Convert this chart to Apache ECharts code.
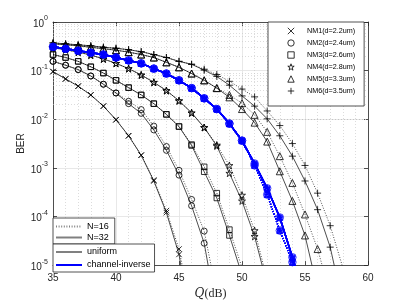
<!DOCTYPE html>
<html><head><meta charset="utf-8">
<script src="https://cdn.jsdelivr.net/npm/echarts@6/dist/echarts.min.js"></script>
<style>html,body{margin:0;padding:0;background:#fff}#c{width:407px;height:305px}</style>
</head><body><div id="c"></div>
<script>
// SNR grid (dB)
const snr = [35,36,37,38,39,40,41,42,43,44,45,46,47,48,49,50,51,52,53,54,55,56,57,58];
const xTicks = [35,40,45,50,55,60];
const nmNames = ['NM1(d=2.2um)','NM2(d=2.4um)','NM3(d=2.6um)','NM4(d=2.8um)','NM5(d=3.3um)','NM6(d=3.5um)'];
const lineNames = ['N=16','N=32'];
const schemeNames = ['uniform','channel-inverse'];

// uniform allocation, per NM (BER values)
const nm1_n16 = [0.0955,0.0676,0.0479,0.0316,0.0186,0.00977,0.00457,0.00182,5.62e-4,1.32e-4,2.14e-5,1e-6];
const nm1_n32 = [0.0955,0.0676,0.0479,0.0316,0.0186,0.00977,0.00457,0.00182,5.37e-4,1.20e-4,1.66e-5,5e-7];
const nm2_n16 = [0.155,0.129,0.105,0.0776,0.0525,0.0347,0.0234,0.0158,0.00724,0.00275,8.91e-4,2.24e-4,5.01e-5,2.5e-6];
const nm2_n32 = [0.155,0.129,0.105,0.0776,0.0525,0.0347,0.0209,0.0132,0.00603,0.00229,7.08e-4,1.66e-4,2.82e-5,1e-6];
const nm3_n16 = [0.214,0.186,0.155,0.120,0.0891,0.0631,0.0447,0.0316,0.0209,0.0126,0.00708,0.00302,0.00105,3.02e-4,5.37e-5,8.91e-6];
const nm3_n32 = [0.214,0.186,0.155,0.120,0.0891,0.0631,0.0447,0.0316,0.0209,0.0126,0.00708,0.00288,8.32e-4,2.40e-4,4.07e-5,6.31e-6];
const nm4_n16 = [0.295,0.269,0.240,0.209,0.174,0.141,0.110,0.0813,0.0575,0.0389,0.0240,0.0135,0.00676,0.00295,0.00112,2.75e-4,5.13e-5,5.01e-6];
const nm4_n32 = [0.295,0.269,0.240,0.209,0.174,0.141,0.110,0.0813,0.0575,0.0389,0.0240,0.0135,0.00676,0.00282,7.76e-4,2.09e-4,3.89e-5,3.98e-6];
const nm5_n16 = [0.355,0.339,0.324,0.302,0.282,0.263,0.240,0.214,0.186,0.148,0.117,0.0871,0.0631,0.0437,0.0316,0.0214,0.0123,0.00550,0.00174,4.90e-4,1.10e-4,2.14e-5,2.51e-6];
const nm5_n32 = [0.355,0.339,0.324,0.302,0.282,0.263,0.240,0.214,0.186,0.148,0.117,0.0871,0.0631,0.0437,0.0282,0.0162,0.00851,0.00347,8.51e-4,2.09e-4,4.07e-5,3.16e-6];
const nm6_n16 = [0.372,0.355,0.339,0.324,0.302,0.288,0.269,0.245,0.214,0.186,0.155,0.135,0.107,0.0832,0.0603,0.0417,0.0288,0.0148,0.00741,0.00316,0.00112,3.02e-4,6.46e-5,8.91e-6];
const nm6_n32 = [0.372,0.355,0.339,0.324,0.302,0.288,0.269,0.245,0.214,0.186,0.155,0.135,0.102,0.0759,0.0501,0.0302,0.0186,0.0102,0.00457,0.00174,5.37e-4,1.38e-4,2.34e-5,1.58e-6];
// channel-inverse allocation (all NMs coincide)
const ci_n16 = [0.309,0.282,0.257,0.234,0.214,0.186,0.162,0.141,0.110,0.0871,0.0631,0.0437,0.0269,0.0162,0.00813,0.00363,0.00112,2.82e-4,5.13e-5,1.15e-5,1.3e-6];
const ci_n32 = [0.309,0.282,0.257,0.234,0.214,0.186,0.162,0.141,0.110,0.0871,0.0631,0.0437,0.0269,0.0162,0.00813,0.00363,0.00123,3.80e-4,9.55e-5,1.45e-5,1.58e-6];

const uni16 = [nm1_n16,nm2_n16,nm3_n16,nm4_n16,nm5_n16,nm6_n16];
const uni32 = [nm1_n32,nm2_n32,nm3_n32,nm4_n32,nm5_n32,nm6_n32];

const FONT = 'Liberation Sans';
const AX = '#262626';
const markers = [
  {sym:'path://M0,0L10,10M10,0L0,10', size:5.5, bsize:5},
  {sym:'circle', size:6, bsize:7.5},
  {sym:'rect', size:5.5, bsize:4.5},
  {sym:'path://M50,2L61,36L97,36L68,57L79,92L50,71L21,92L32,57L3,36L39,36Z', size:7, bsize:6},
  {sym:'triangle', size:7, bsize:6},
  {sym:'path://M5,0L5,10M0,5L10,5', size:7, bsize:5.5}
];
const DOT = [1,1.6];

function mk(name, vals, m, size, color, dotted, lw) {
  return {
    type:'line', name: name,
    data: vals.map((v,i)=>[snr[i], v]),
    symbol: m.sym, symbolSize: size, showAllSymbol: true, clip: true,
    lineStyle: {color: color, width: lw, type: dotted ? DOT : 'solid'},
    itemStyle: {color: 'rgba(0,0,0,0)', borderColor: color, borderWidth: 0.8},
    emphasis: {disabled: true}, silent: true, animation: false
  };
}

const series = [];
for (let k = 0; k < 6; k++) {
  series.push(mk('u16_'+k, uni16[k], markers[k], markers[k].size, '#000', true, 0.7));
  series.push(mk('u32_'+k, uni32[k], markers[k], markers[k].size, '#000', false, 0.7));
}
for (let k = 0; k < 6; k++) {
  series.push(mk('c16_'+k, ci_n16, markers[k], markers[k].bsize, '#0000ff', true, 1.5));
  series.push(mk('c32_'+k, ci_n32, markers[k], markers[k].bsize, '#0000ff', false, 1.5));
}
// minor log grid lines
const minorY = [];
for (let e = -5; e < 0; e++) for (let m = 2; m <= 9; m++) minorY.push(m * Math.pow(10, e));
series[1].markLine = {
  silent: true, symbol: ['none','none'], label: {show:false}, animation: false, z: 1,
  lineStyle: {color:'#c4c4c4', type:[1,2], width:0.6},
  emphasis: {disabled: true},
  data: minorY.map(v => ({yAxis: v}))
};
// legend entries
nmNames.forEach((n,k) => series.push({
  type:'line', name:n, data:[], symbol:markers[k].sym, symbolSize:markers[k].size,
  itemStyle:{color:'rgba(0,0,0,0)', borderColor:'#000', borderWidth:0.8}, lineStyle:{opacity:0}
}));
const legLines = {
  'N=16': {color:'#808080', type:DOT, width:1},
  'N=32': {color:'#808080', type:'solid', width:1},
  'uniform': {color:'#808080', type:'solid', width:1},
  'channel-inverse': {color:'#0000ff', type:'solid', width:0.8}
};
Object.keys(legLines).forEach(n => series.push({
  type:'line', name:n, data:[], symbol:'none',
  itemStyle:{opacity:0}, lineStyle: legLines[n]
}));

const legText = {fontSize:9, fontFamily:FONT, color:'#000'};
const option = {
  backgroundColor:'#fff',
  animation:false,
  grid:{left:53, right:39, top:22, bottom:35, containLabel:false},
  xAxis:[{
    type:'value', min:35, max:60, interval:5,
    axisLine:{show:true, lineStyle:{color:AX, width:0.8}},
    axisTick:{show:true, inside:true, length:4, lineStyle:{color:AX, width:0.8}},
    axisLabel:{fontSize:10, color:AX, fontFamily:FONT, margin:8,
      formatter: v => (xTicks.indexOf(v) >= 0 ? String(v) : '')},
    splitLine:{show:true, lineStyle:{color:'#e2e2e2', width:0.8}},
    minorTick:{show:false, splitNumber:5},
    minorSplitLine:{show:true, lineStyle:{color:'#c4c4c4', type:[1,2], width:0.6}},
    name:'{q|Q}{d|(dB)}', nameLocation:'middle', nameGap:18,
    nameTextStyle:{rich:{
      q:{fontFamily:'DejaVu Serif', fontStyle:'italic', fontSize:12, color:AX},
      d:{fontFamily:'Liberation Serif', fontSize:12, color:AX}
    }}
  },{
    type:'value', min:35, max:60, interval:5, position:'top',
    axisLine:{show:true, lineStyle:{color:AX, width:0.8}},
    axisTick:{show:true, inside:true, length:4, lineStyle:{color:AX, width:0.8}},
    axisLabel:{show:false}, splitLine:{show:false}
  }],
  yAxis:[{
    type:'log', logBase:10, min:1e-5, max:1, splitNumber:5,
    axisLine:{show:true, lineStyle:{color:AX, width:0.8}},
    axisTick:{show:true, inside:true, length:4, lineStyle:{color:AX, width:0.8}},
    axisLabel:{margin:5, color:AX, fontFamily:FONT,
      formatter: v => '{b|10}{s|' + Math.round(Math.log10(v)) + '}',
      rich:{ b:{fontSize:10, fontFamily:FONT, color:AX, lineHeight:14, verticalAlign:'bottom', padding:[6,0,0,0]},
             s:{fontSize:7, fontFamily:FONT, color:AX, lineHeight:14, verticalAlign:'top'} }},
    splitLine:{show:true, lineStyle:{color:'#e2e2e2', width:0.8}},
    name:'BER', nameLocation:'middle', nameGap:27, nameMoveOverlap:false,
    nameTextStyle:{fontSize:10, fontFamily:FONT, color:AX}
  },{
    type:'log', logBase:10, min:1e-5, max:1, splitNumber:5, position:'right',
    axisLine:{show:true, lineStyle:{color:AX, width:0.8}},
    axisTick:{show:true, inside:true, length:4, lineStyle:{color:AX, width:0.8}},
    axisLabel:{show:false}, splitLine:{show:false}
  }],
  legend:[{
    orient:'vertical', left:268, top:22, selectedMode:false,
    data: nmNames.map(n => ({name:n})),
    itemWidth:22, itemHeight:8, itemGap:2,
    padding:[4,9,10,11],
    backgroundColor:'#fff', borderColor:AX, borderWidth:0.8,
    textStyle:{fontSize:7.2, fontFamily:FONT, color:'#000', lineHeight:10},
    itemStyle:{color:'rgba(0,0,0,0)', borderColor:'#000', borderWidth:0.8},
    lineStyle:{opacity:0}
  },{
    orient:'vertical', left:53, top:218, selectedMode:false,
    data:lineNames.map(n => ({name:n})),
    itemWidth:26, itemHeight:11, itemGap:0,
    padding:[3,6,1,2],
    backgroundColor:'#fff', borderColor:AX, borderWidth:0.8,
    textStyle:Object.assign({lineHeight:11}, legText),
    itemStyle:{opacity:0}
  },{
    orient:'vertical', left:53, top:244, selectedMode:false,
    data:schemeNames.map(n => ({name:n})),
    itemWidth:26, itemHeight:12, itemGap:1,
    padding:[2,4,1,2],
    backgroundColor:'#fff', borderColor:AX, borderWidth:0.8,
    textStyle:Object.assign({lineHeight:12}, legText),
    itemStyle:{opacity:0}
  }],
  series: series
};
const chart = echarts.init(document.getElementById('c'));
chart.setOption(option);
</script></body></html>
